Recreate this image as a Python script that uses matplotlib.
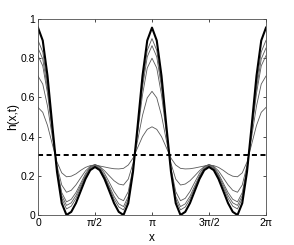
import numpy as np
import matplotlib
matplotlib.use("Agg")
import matplotlib.pyplot as plt

plt.rcParams['font.family'] = ['Liberation Sans', 'DejaVu Sans']

# samples at k * pi/24 over [0, pi]; profiles are mirrored about x = pi
k = np.arange(25)

# initial profile (thick line)
h_init = [0.956, 0.89, 0.71, 0.46, 0.22, 0.06, 0.0, 0.016, 0.061, 0.123, 0.184, 0.229, 0.245,
          0.229, 0.184, 0.123, 0.061, 0.016, 0.0, 0.06, 0.22, 0.46, 0.71, 0.89, 0.956]

# later profiles (thin lines)
h_t1 = [0.891, 0.832, 0.670, 0.445, 0.229, 0.085, 0.031, 0.045, 0.085, 0.141, 0.196, 0.237, 0.251,
        0.236, 0.194, 0.139, 0.082, 0.041, 0.026, 0.081, 0.227, 0.447, 0.675, 0.840, 0.900]
h_t2 = [0.852, 0.796, 0.645, 0.435, 0.234, 0.099, 0.049, 0.062, 0.100, 0.152, 0.203, 0.241, 0.255,
        0.240, 0.201, 0.149, 0.096, 0.057, 0.043, 0.095, 0.232, 0.438, 0.652, 0.807, 0.864]
h_t3 = [0.813, 0.761, 0.621, 0.426, 0.239, 0.114, 0.067, 0.080, 0.115, 0.163, 0.211, 0.246, 0.258,
        0.247, 0.213, 0.167, 0.120, 0.085, 0.073, 0.119, 0.240, 0.423, 0.613, 0.750, 0.800]
h_t4 = [0.709, 0.668, 0.556, 0.401, 0.252, 0.153, 0.116, 0.126, 0.154, 0.190, 0.225, 0.248, 0.256,
        0.247, 0.226, 0.200, 0.175, 0.158, 0.153, 0.183, 0.263, 0.383, 0.508, 0.598, 0.631]
h_t5 = [0.549, 0.524, 0.457, 0.363, 0.270, 0.215, 0.195, 0.198, 0.210, 0.228, 0.243, 0.252, 0.255,
        0.250, 0.245, 0.240, 0.236, 0.235, 0.238, 0.255, 0.290, 0.345, 0.400, 0.437, 0.450]

h_mean = 0.305

x_ticks = [0, np.pi / 2, np.pi, 3 * np.pi / 2, 2 * np.pi]
x_ticklabels = ['0', 'π/2', 'π', '3π/2', '2π']
y_ticks = [0, 0.2, 0.4, 0.6, 0.8, 1]
y_ticklabels = ['0', '0.2', '0.4', '0.6', '0.8', '1']

x = np.concatenate([k, 48 - k[-2::-1]]) * np.pi / 24

def full(h):
    h = np.asarray(h)
    return np.concatenate([h, h[-2::-1]])

fig = plt.figure(figsize=(2.94, 2.45), dpi=100)
ax = fig.add_axes([38 / 294, 30 / 245, 228 / 294, 196 / 245])

for h in [h_t5, h_t4, h_t3, h_t2, h_t1]:
    ax.plot(x, full(h), color='0.35', lw=0.6)
ax.plot(x, full(h_init), color='black', lw=1.5)
ax.plot([0, 2 * np.pi], [h_mean, h_mean], color='black', lw=1.4, ls=(0, (2.6, 1.8)))

ax.set_xlim(0, 2 * np.pi)
ax.set_ylim(0, 1)
ax.set_xticks(x_ticks)
ax.set_xticklabels(x_ticklabels)
ax.set_yticks(y_ticks)
ax.set_yticklabels(y_ticklabels)
ax.tick_params(direction='in', top=True, right=True, length=2.5, width=0.5,
               labelsize=7.5, pad=2, colors='black')
for s in ax.spines.values():
    s.set_linewidth(0.6)
    s.set_color('0.3')
ax.set_xlabel('x', fontsize=8.5, labelpad=3)
ax.set_ylabel('h(x,t)', fontsize=8.5, labelpad=1)

fig.savefig('out.png', dpi=100)
